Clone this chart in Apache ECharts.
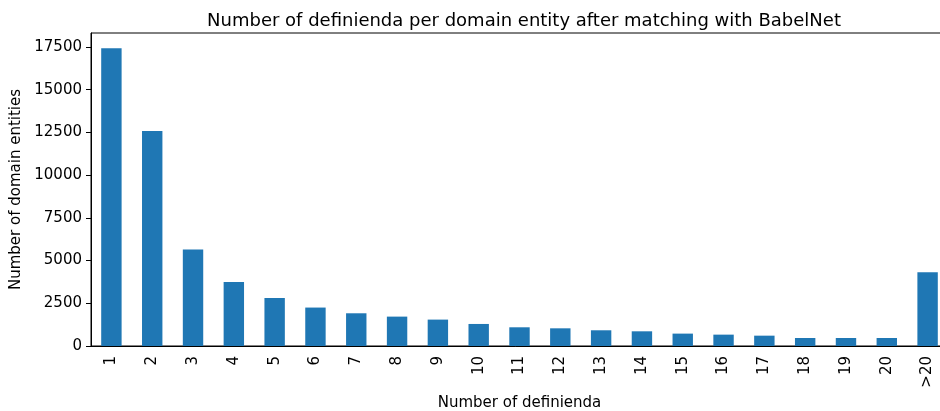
<!DOCTYPE html>
<html>
<head>
<meta charset="utf-8">
<script src="https://cdn.jsdelivr.net/npm/echarts@6/dist/echarts.min.js"></script>
<style>
  html, body { margin: 0; padding: 0; background: #fff; }
  #main { width: 940px; height: 411px; }
</style>
</head>
<body>
<div id="main"></div>
<script>
var categories = ['1', '2', '3', '4', '5', '6', '7', '8', '9', '10', '11', '12', '13', '14', '15', '16', '17', '18', '19', '20', '>20'];
var counts = [17430, 12580, 5650, 3750, 2810, 2250, 1915, 1720, 1545, 1290, 1095, 1035, 920, 860, 725, 665, 605, 470, 470, 470, 4320];
var yTicks = [0, 2500, 5000, 7500, 10000, 12500, 15000, 17500];

var myChart = echarts.init(document.getElementById('main'));

var font = 'DejaVu Sans';

option = {
    animation: false,
    title: {
        text: 'Number of definienda per domain entity after matching with BabelNet',
        left: 519,
        top: 7,
        textAlign: 'center',
        textStyle: { fontFamily: font, fontSize: 18, fontWeight: 'normal', color: '#000' }
    },
    grid: {
        left: 91,
        top: 33,
        right: -8,
        bottom: 65,
        outerBoundsMode: 'none',
        containLabel: false,
        show: true,
        borderColor: '#000',
        borderWidth: 1,
        backgroundColor: 'transparent'
    },
    xAxis: {
        type: 'category',
        data: categories,
        name: 'Number of definienda',
        nameLocation: 'middle',
        nameGap: 46,
        nameTextStyle: { fontFamily: font, fontSize: 15, color: '#000' },
        axisLine: { lineStyle: { color: '#000', width: 1 } },
        axisTick: { alignWithLabel: true, length: 5, lineStyle: { color: '#000' } },
        axisLabel: { rotate: 90, margin: 10, fontFamily: font, fontSize: 15, color: '#000' },
        splitLine: { show: false }
    },
    yAxis: {
        type: 'value',
        min: 0,
        max: 18320,
        name: 'Number of domain entities',
        nameLocation: 'middle',
        nameGap: 65,
        nameTextStyle: { fontFamily: font, fontSize: 15, color: '#000' },
        axisLine: { show: true, lineStyle: { color: '#000', width: 1 } },
        axisTick: { show: true, length: 5, lineStyle: { color: '#000' }, customValues: yTicks },
        axisLabel: {
            margin: 9, fontFamily: font, fontSize: 15, color: '#000', customValues: yTicks,
            formatter: function (v) { return String(v); }
        },
        splitLine: { show: false }
    },
    series: [
        {
            type: 'bar',
            data: counts,
            barWidth: '50%',
            itemStyle: { color: '#1f77b4' }
        }
    ]
};

myChart.setOption(option);
</script>
</body>
</html>
